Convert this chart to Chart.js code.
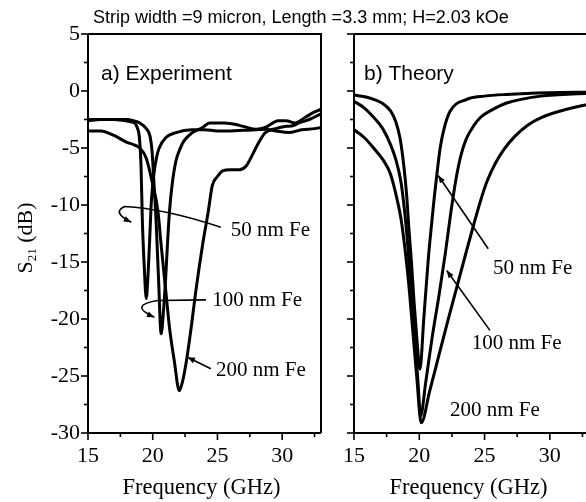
<!DOCTYPE html>
<html><head><meta charset="utf-8">
<script src="https://cdn.jsdelivr.net/npm/chart.js@4"></script>
<style>
html,body{margin:0;padding:0;background:#fff;overflow:hidden;width:586px;height:502px;}
#wrap{position:relative;width:586px;height:502px;overflow:hidden;background:#fff;}
#c1{position:absolute;left:0;top:0;width:340px;height:502px;}
#c2{position:absolute;left:330px;top:0;width:270px;height:502px;}
#title{position:absolute;left:93px;top:7px;font-family:'Liberation Sans',Arial,sans-serif;font-size:18px;color:#000;white-space:nowrap;line-height:20px;}
</style></head><body>
<div id="wrap">
<canvas id="c1" width="340" height="502"></canvas>
<canvas id="c2" width="270" height="502"></canvas>
<div id="title">Strip width =9 micron, Length =3.3 mm; H=2.03 kOe</div>
</div>
<script>
// ---------- data ----------
const seriesNames = ['50 nm Fe', '100 nm Fe', '200 nm Fe'];
const xTickValues = [15, 20, 25, 30];
const yTickValues = [5, 0, -5, -10, -15, -20, -25, -30];

// a) Experiment
const expF50 = [15, 16, 17, 17.8, 18.3, 18.6, 18.8, 18.97, 19.1, 19.2, 19.35, 19.5, 19.62, 19.75, 19.9, 20.1, 20.3, 20.5, 21.0, 21.8, 23, 24, 25, 26, 27, 28, 28.7, 29.5, 30.5, 31.5, 32.5, 33];
const expS50 = [-2.6, -2.5, -2.5, -2.6, -2.7, -2.8, -3.2, -4.1, -6.7, -11.4, -15.5, -18.2, -16.5, -13.4, -9.6, -7.2, -5.8, -5.0, -4.1, -3.65, -3.4, -3.4, -3.5, -3.5, -3.45, -3.4, -3.36, -3.5, -3.65, -3.4, -3.3, -3.2];

const expF100 = [15, 16, 17, 18, 18.5, 19, 19.5, 19.8, 19.95, 20.1, 20.26, 20.45, 20.65, 20.85, 21.0, 21.15, 21.3, 21.5, 21.8, 22.1, 22.4, 23, 23.85, 24.4, 25.5, 26.2, 27, 28, 28.7, 29.7, 30.3, 31, 31.8, 32.4, 33];
const expS100 = [-2.5, -2.5, -2.5, -2.5, -2.6, -2.8, -3.3, -4.0, -5.3, -8.2, -11.4, -16.5, -21.3, -19, -16.4, -13.2, -10.5, -8.2, -6.1, -5.1, -4.4, -3.7, -3.2, -2.8, -2.8, -2.9, -3.1, -3.36, -3.2, -2.6, -2.6, -2.8, -2.3, -1.9, -1.6];

const expF200 = [15, 16, 17, 18, 18.5, 19, 19.5, 20.0, 20.4, 20.65, 21.03, 21.3, 21.67, 22.05, 22.3, 22.6, 23, 23.3, 23.85, 24.3, 24.6, 25, 25.4, 26, 26.7, 27.2, 27.7, 28.2, 28.7, 29.5, 30.3, 30.8, 31.3, 32.1, 33];
const expS200 = [-3.5, -3.5, -3.9, -4.5, -4.7, -5.0, -5.9, -8.2, -10.5, -13.5, -17.8, -20.8, -23.7, -26.3, -25.5, -23.7, -20.5, -17.8, -13.5, -10.5, -8.3, -7.5, -7.0, -6.9, -6.9, -6.6, -5.6, -4.5, -3.65, -3.3, -3.1, -3.05, -2.8, -2.5, -2.0];

// b) Theory
const thF50 = [15, 16, 16.5, 17.2, 17.8, 18.2, 18.52, 18.8, 19.03, 19.2, 19.4, 19.6, 19.8, 20.05, 20.35, 20.7, 20.95, 21.15, 21.35, 21.6, 21.9, 22.35, 23.6, 25, 26.7, 30, 33];
const thS50 = [-0.35, -0.55, -0.73, -1.1, -1.75, -2.7, -4.1, -6.4, -9.1, -12, -15, -18.5, -21.5, -24.4, -19.9, -14.6, -11.6, -9.3, -7.3, -5.0, -3.3, -1.8, -0.75, -0.45, -0.3, -0.15, -0.1];

const thF100 = [15, 15.8, 16.5, 17.2, 17.8, 18.2, 18.6, 18.9, 19.15, 19.4, 19.65, 19.9, 20.1, 20.5, 21.0, 21.5, 22.0, 22.4, 22.8, 23.2, 23.6, 24.2, 24.7, 25.5, 26.7, 29.3, 33];
const thS100 = [-0.9, -1.5, -2.3, -3.3, -4.7, -6.0, -8.0, -10.8, -14, -18, -21.5, -25.5, -28.5, -25.5, -21.5, -18, -14.2, -10.8, -7.8, -5.6, -4.2, -3.0, -2.3, -1.7, -1.05, -0.45, -0.2];

const thF200 = [15, 15.8, 16.5, 17.2, 17.8, 18.3, 18.6, 18.9, 19.2, 19.5, 19.8, 20.15, 20.8, 21.5, 22.2, 22.9, 23.6, 24.15, 24.7, 25.2, 25.8, 26.5, 27.3, 28.3, 29.3, 31.3, 33];
const thS200 = [-3.4, -4.1, -5.0, -6.0, -7.3, -9.5, -11.2, -13.8, -17, -21, -25, -29.1, -26.3, -23.2, -20.1, -17.1, -14.1, -11.8, -9.6, -7.9, -6.4, -5.1, -4.0, -3.0, -2.35, -1.6, -1.15];

// annotation anchors (data coordinates)
const expLabelF = [26.03, 24.59, 24.88];
const expLabelS = [-12.24, -18.38, -24.52];
const thLabelF = [25.64, 24.01, 22.35];
const thLabelS = [-15.57, -22.15, -28.03];

const expArrows = [
  [['M', 25.26, -11.95], ['Q', 20.9, -10.31, 17.82, -10.13], ['Q', 16.82, -10.66, 18.34, -11.51]],
  [['M', 24.11, -18.32], ['L', 20.36, -18.38], ['Q', 18.06, -18.82, 20.13, -19.84]],
  [['M', 24.49, -24.37], ['L', 22.69, -23.35]]
];
const thArrows = [
  [['M', 25.28, -13.84], ['L', 21.45, -7.41]],
  [['M', 25.41, -21.0], ['L', 22.1, -15.75]]
];

// ---------- helpers ----------
const pts = (f, s) => f.map((x, i) => ({ x: x, y: s[i] }));
const SERIF = "'Liberation Serif','Times New Roman',serif";
const SANS = "'Liberation Sans',Arial,sans-serif";

function ds(f, s, name) {
  return { label: name, data: pts(f, s), borderColor: '#000', borderWidth: 3, pointRadius: 0,
           fill: false, cubicInterpolationMode: 'monotone', borderJoinStyle: 'round', borderCapStyle: 'round' };
}

const panelPlugin = {
  id: 'panel',
  afterDraw(chart, args, o) {
    const { ctx, chartArea: a, scales: { x, y } } = chart;
    ctx.save();
    ctx.strokeStyle = '#000';
    ctx.fillStyle = '#000';
    // frame
    ctx.lineWidth = 2;
    ctx.beginPath();
    ctx.moveTo(a.left, a.top); ctx.lineTo(a.left, a.bottom); ctx.lineTo(a.right, a.bottom);
    ctx.stroke();
    ctx.beginPath();
    ctx.moveTo(a.left, a.top); ctx.lineTo(a.right, a.top);
    if (o.rightBorder) ctx.lineTo(a.right, a.bottom);
    ctx.stroke();
    // ticks
    ctx.lineWidth = 1.6;
    x.ticks.forEach(t => {
      const px = x.getPixelForValue(t.value);
      const len = (Math.abs(t.value % 5) < 1e-6) ? 7 : 4;
      ctx.beginPath(); ctx.moveTo(px, a.bottom); ctx.lineTo(px, a.bottom + len); ctx.stroke();
    });
    y.ticks.forEach(t => {
      const py = y.getPixelForValue(t.value);
      const len = (Math.abs(t.value % 5) < 1e-6) ? 7 : 4;
      ctx.beginPath(); ctx.moveTo(a.left, py); ctx.lineTo(a.left - len, py); ctx.stroke();
    });
    // panel label
    ctx.font = '21px ' + SANS;
    ctx.textBaseline = 'alphabetic';
    ctx.textAlign = 'left';
    ctx.fillText(o.panelLabel, a.left + o.panelDx, 80);
    // x axis title
    ctx.font = '22.5px ' + SERIF;
    ctx.textAlign = 'center';
    ctx.textBaseline = 'middle';
    ctx.fillText('Frequency (GHz)', (a.left + a.right) / 2 - 3, 488);
    // y axis title
    if (o.yTitle) {
      ctx.save();
      ctx.translate(25, 238);
      ctx.rotate(-Math.PI / 2);
      ctx.textAlign = 'left';
      ctx.textBaseline = 'alphabetic';
      const big = '22px ' + SERIF, small = '13px ' + SERIF;
      ctx.font = big; const wS = ctx.measureText('S').width;
      ctx.font = small; const w21 = ctx.measureText('21').width;
      ctx.font = big; const wR = ctx.measureText(' (dB)').width;
      let cx = -(wS + w21 + wR) / 2;
      const base = 7;
      ctx.font = big; ctx.fillText('S', cx, base); cx += wS;
      ctx.font = small; ctx.fillText('21', cx, base + 4); cx += w21;
      ctx.font = big; ctx.fillText(' (dB)', cx, base);
      ctx.restore();
    }
    // annotation labels
    ctx.font = '21px ' + SERIF;
    ctx.textAlign = 'left';
    ctx.textBaseline = 'middle';
    o.labels.forEach((txt, i) => {
      ctx.fillText(txt, x.getPixelForValue(o.labelF[i]), y.getPixelForValue(o.labelS[i]));
    });
    // arrows
    ctx.lineWidth = 1.6;
    o.arrows.forEach(path => {
      ctx.beginPath();
      let prevX = 0, prevY = 0, endX = 0, endY = 0;
      path.forEach(cmd => {
        if (cmd[0] === 'M') {
          endX = x.getPixelForValue(cmd[1]); endY = y.getPixelForValue(cmd[2]);
          ctx.moveTo(endX, endY);
        } else if (cmd[0] === 'L') {
          prevX = endX; prevY = endY;
          endX = x.getPixelForValue(cmd[1]); endY = y.getPixelForValue(cmd[2]);
          ctx.lineTo(endX, endY);
        } else if (cmd[0] === 'Q') {
          prevX = x.getPixelForValue(cmd[1]); prevY = y.getPixelForValue(cmd[2]);
          endX = x.getPixelForValue(cmd[3]); endY = y.getPixelForValue(cmd[4]);
          ctx.quadraticCurveTo(prevX, prevY, endX, endY);
        }
      });
      ctx.stroke();
      const ang = Math.atan2(endY - prevY, endX - prevX);
      const size = 8;
      ctx.beginPath();
      ctx.moveTo(endX, endY);
      ctx.lineTo(endX - size * Math.cos(ang - 0.38), endY - size * Math.sin(ang - 0.38));
      ctx.lineTo(endX - size * Math.cos(ang + 0.38), endY - size * Math.sin(ang + 0.38));
      ctx.closePath();
      ctx.fill();
    });
    ctx.restore();
  }
};

function makeOptions(showYLabels, yWidth, padRight, panelOpts) {
  return {
    responsive: false,
    animation: false,
    devicePixelRatio: 1,
    layout: { padding: { left: 0, right: padRight, top: 34, bottom: 0 } },
    plugins: { legend: { display: false }, tooltip: { enabled: false }, title: { display: false }, panel: panelOpts },
    scales: {
      x: {
        type: 'linear', min: 15, max: 33,
        border: { display: false },
        grid: { display: false, drawTicks: false },
        ticks: {
          stepSize: 2.5, includeBounds: false, autoSkip: false, maxRotation: 0, padding: 10,
          color: '#000', font: { family: SERIF, size: 22 },
          callback: v => xTickValues.includes(v) ? String(v) : ''
        },
        afterFit: s => { s.height = 69; }
      },
      y: {
        type: 'linear', min: -30, max: 5,
        border: { display: false },
        grid: { display: false, drawTicks: false },
        ticks: {
          stepSize: 2.5, includeBounds: false, autoSkip: false, padding: 8,
          display: true,
          color: showYLabels ? '#000' : 'rgba(0,0,0,0)', font: { family: SERIF, size: 22 },
          callback: v => (showYLabels && yTickValues.includes(v)) ? String(v) : ''
        },
        afterFit: s => { s.width = yWidth; }
      }
    }
  };
}

new Chart(document.getElementById('c1'), {
  type: 'line',
  data: { datasets: [ds(expF50, expS50, seriesNames[0]), ds(expF100, expS100, seriesNames[1]), ds(expF200, expS200, seriesNames[2])] },
  options: makeOptions(true, 88, 19, {
    rightBorder: true, panelLabel: 'a) Experiment', panelDx: 13, yTitle: true,
    labels: seriesNames, labelF: expLabelF, labelS: expLabelS, arrows: expArrows
  }),
  plugins: [panelPlugin]
});

new Chart(document.getElementById('c2'), {
  type: 'line',
  data: { datasets: [ds(thF50, thS50, seriesNames[0]), ds(thF100, thS100, seriesNames[1]), ds(thF200, thS200, seriesNames[2])] },
  options: makeOptions(false, 24, 11, {
    rightBorder: true, panelLabel: 'b) Theory', panelDx: 10, yTitle: false,
    labels: seriesNames, labelF: thLabelF, labelS: thLabelS, arrows: thArrows
  }),
  plugins: [panelPlugin]
});
</script>
</body></html>
